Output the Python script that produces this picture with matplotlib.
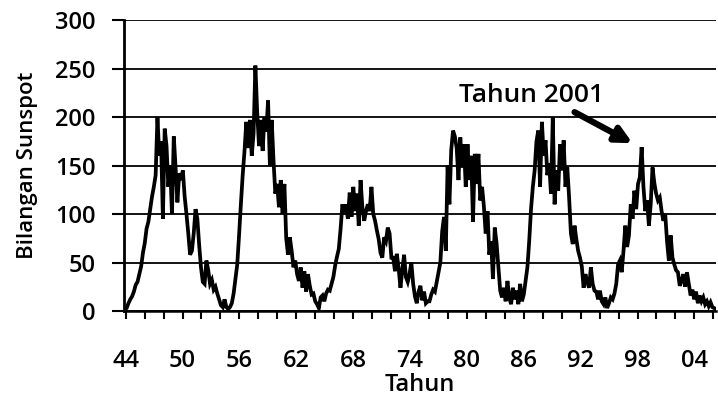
import numpy as np
import matplotlib
matplotlib.use("Agg")
import matplotlib.pyplot as plt
from matplotlib.ticker import FixedLocator

# ---- data: sunspot number, sampled every 0.2 year starting 1943.4 ----
start_year = 1943.4
step_year = 0.2

cycle18 = [2, 3, 8, 12, 15, 20, 27, 30, 38, 46, 60, 70, 85, 92, 105, 118, 128, 140,
           200, 160, 175, 95, 188, 170, 128, 150, 100, 180, 148, 112, 142, 135, 145,
           118, 100, 80, 58, 62, 80, 105, 95, 68, 45, 30, 28, 52, 42, 28, 32, 22, 25,
           18, 12, 6, 4, 12, 4, 2]
cycle19 = [4, 8, 18, 33, 48, 78, 110, 140, 165, 195, 168, 197, 160, 183, 253, 205,
           170, 197, 165, 200, 185, 217, 150, 197, 155, 121, 131, 107, 135, 100, 131,
           75, 58, 76, 62, 45, 52, 38, 31, 45, 24, 41, 20, 38, 26, 17, 18, 10, 7, 3,
           14, 16, 10, 18, 22]
cycle20 = [21, 28, 35, 47, 56, 64, 85, 110, 100, 110, 95, 122, 97, 128, 103, 121, 88,
           135, 107, 93, 103, 110, 103, 128, 100, 93, 83, 74, 60, 55, 76, 72, 86, 80,
           55, 55, 41, 59, 44, 24, 42, 58, 35, 30, 38, 50, 28, 15, 8, 20, 26, 11, 20,
           8, 10]
cycle21 = [10, 17, 22, 20, 30, 40, 50, 82, 97, 62, 150, 110, 166, 186, 180, 168, 135,
           179, 148, 172, 128, 172, 135, 160, 92, 162, 131, 162, 114, 128, 108, 80,
           103, 58, 72, 33, 86, 70, 45, 21, 14, 24, 10, 31, 14, 7, 24, 12, 21, 7, 28,
           10, 17, 31, 45]
cycle22 = [72, 105, 128, 145, 175, 186, 128, 195, 160, 176, 140, 152, 121, 200, 110,
           145, 124, 172, 145, 176, 128, 148, 117, 80, 69, 88, 74, 62, 55, 46, 24, 38,
           30, 24, 45, 28, 21, 20, 12, 21, 10, 7, 14, 3, 8, 14, 12, 18, 28, 48]
cycle23 = [52, 40, 62, 88, 66, 78, 110, 95, 124, 105, 131, 138, 169, 128, 103, 114, 88,
           110, 148, 132, 121, 114, 117, 103, 93, 100, 72, 52, 78, 55, 48, 42, 40, 26,
           31, 38, 25, 40, 28, 16, 22, 12, 20, 8, 16, 10, 14, 7, 10, 5, 9, 4, 3, 2]

sunspot = np.array(cycle18 + cycle19 + cycle20 + cycle21 + cycle22 + cycle23, dtype=float)
years = start_year + step_year * np.arange(len(sunspot))

x_labels = ["44", "50", "56", "62", "68", "74", "80", "86", "92", "98", "04"]
y_ticks = [0, 50, 100, 150, 200, 250, 300]

# ---- figure ----
FONT = "Open Sans"
plt.rcParams["font.family"] = [FONT, "DejaVu Sans"]
W = "semibold"

fig = plt.figure(figsize=(7.18, 3.97), dpi=100)
ax = fig.add_axes([0.1727, 0.2166, 0.8245, 0.733])

ax.plot(years, sunspot, color="black", lw=2.7, solid_joinstyle="miter")

x0, x1 = 1943.31, 2008.6
ax.set_xlim(x0, x1)
ax.set_ylim(0, 300)

# x ticks: minor marks every third of the label spacing
label_step = 6.273
tick_pos = [1943.49 + label_step / 3 * i for i in range(3 * len(x_labels))]
tick_pos = [t for t in tick_pos if t <= x1]
ax.xaxis.set_major_locator(FixedLocator(tick_pos))
ax.set_xticklabels([x_labels[i // 3] if i % 3 == 0 else "" for i in range(len(tick_pos))])
ax.tick_params(axis="x", direction="out", length=5.5, width=1.5, pad=22,
               labelsize=17, colors="black")

ax.set_yticks(y_ticks)
ax.tick_params(axis="y", direction="out", length=8.5, width=1.5, pad=12,
               labelsize=17, colors="black")
for lab in ax.get_xticklabels() + ax.get_yticklabels():
    lab.set_fontweight(W)

ax.grid(axis="y", color="black", lw=1.3)
ax.set_axisbelow(True)
for s in ["top", "right"]:
    ax.spines[s].set_visible(False)
ax.spines["left"].set_linewidth(2.0)
ax.spines["bottom"].set_linewidth(1.8)

ax.set_ylabel("Bilangan Sunspot", fontsize=16, fontweight=W, labelpad=12)
ax.set_xlabel("Tahun", fontsize=17, fontweight=W, labelpad=0)

ax.text(1988.2, 222.5, "Tahun 2001", ha="center", va="center",
        fontsize=19, fontweight=W)
ax.annotate("", xy=(1999.4, 173), xytext=(1993.0, 205),
            arrowprops=dict(arrowstyle="-|>", color="black", lw=4.5,
                            mutation_scale=24, shrinkA=0, shrinkB=0))

fig.savefig("out.png", dpi=100)
